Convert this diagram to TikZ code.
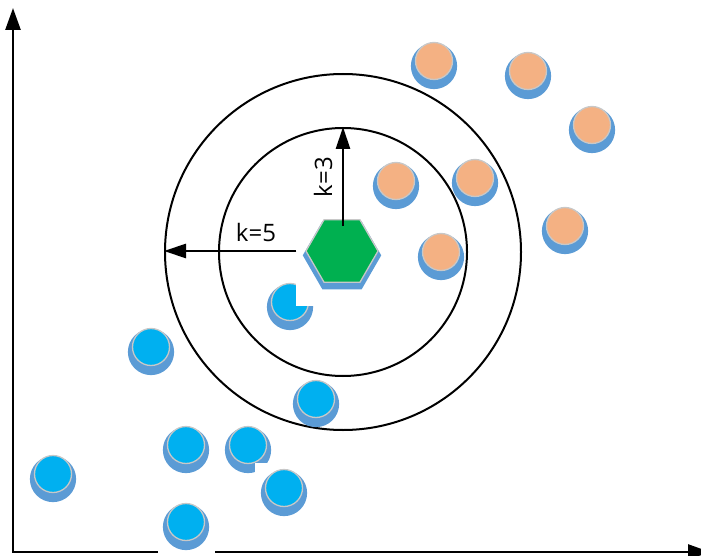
\documentclass[tikz,border=0pt]{standalone}
\usepackage{fontspec}
\setmainfont{Open Sans}
\usetikzlibrary{arrows.meta,shapes.geometric,shadows}
\definecolor{ptblue}{HTML}{00B0F0}
\definecolor{ptorange}{HTML}{F4B183}
\definecolor{ptgreen}{HTML}{00B050}
\definecolor{ptshadow}{HTML}{5B9BD5}
\definecolor{ptrim}{HTML}{C8C8C8}
\tikzset{
  pt/.style={circle, inner sep=0pt, minimum size=37pt, draw=ptrim, line width=1.3pt,
    drop shadow={shadow xshift=0pt, shadow yshift=-4pt, fill=ptshadow, opacity=1, shadow scale=1.25}},
  bluept/.style={pt, fill=ptblue},
  orangept/.style={pt, fill=ptorange},
  query/.style={regular polygon, regular polygon sides=6, inner sep=0pt, minimum size=72pt,
    fill=ptgreen, draw=ptrim, line width=1.3pt,
    drop shadow={shadow xshift=0pt, shadow yshift=-4pt, fill=ptshadow, opacity=1, shadow scale=1.09}},
  ring/.style={circle, draw=black, line width=2pt, inner sep=0pt},
  karrow/.style={line width=2.8pt, -{Triangle[length=22pt,width=14pt]}},
  axis/.style={line width=2.6pt, {Triangle[length=22pt,width=15pt]}-{Triangle[length=22pt,width=15pt]}},
  lbl/.style={font=\fontsize{24}{28}\selectfont, inner sep=0pt},
  mask/.style={fill=white, draw=none}
}
\begin{document}
\begin{tikzpicture}[x=1pt,y=-1pt]
\useasboundingbox (0,0) rectangle (701,556);
% axes
\coordinate (ytop) at (13,8);
\coordinate (origin) at (13,552);
\coordinate (xend) at (710,552);
\draw[axis] (ytop) -- (origin) -- (xend);
\fill[mask] (158,544) rectangle (215,556);
% rings
\node[ring, minimum size=356pt] (outer) at (343,252) {};
\node[ring, minimum size=248pt] (inner) at (343,252) {};
% orange points
\node[orangept] (o1) at (434,61) {};
\node[orangept] (o2) at (528,71) {};
\node[orangept] (o3) at (592,125) {};
\node[orangept] (o4) at (396,181) {};
\node[orangept] (o5) at (475,178) {};
\node[orangept] (o6) at (565,226) {};
\node[orangept] (o7) at (441,252) {};
% blue points
\node[bluept] (b1) at (290,302) {};
\fill[mask] (296,274) rectangle (318,306);
\node[bluept] (b2) at (151,347) {};
\node[bluept] (b3) at (316,399) {};
\node[bluept] (b4) at (53,474) {};
\node[bluept] (b5) at (186,445) {};
\node[bluept] (b6) at (248,445) {};
\fill[mask] (255,463) rectangle (272,480);
\node[bluept] (b7) at (284,488) {};
\node[bluept] (b8) at (186,522) {};
% query point
\node[query] (q) at (342,251) {};
% k arrows
\draw[karrow] ([yshift=-7pt]q.north -| inner.north) -- (inner.north);
\draw[karrow] ([xshift=-9pt]q.west) -- (outer.west |- q.west);
\node[lbl] (k5) at (256,232) {k=5};
\node[lbl, rotate=90] (k3) at (323,177) {k=3};
\end{tikzpicture}
\end{document}
